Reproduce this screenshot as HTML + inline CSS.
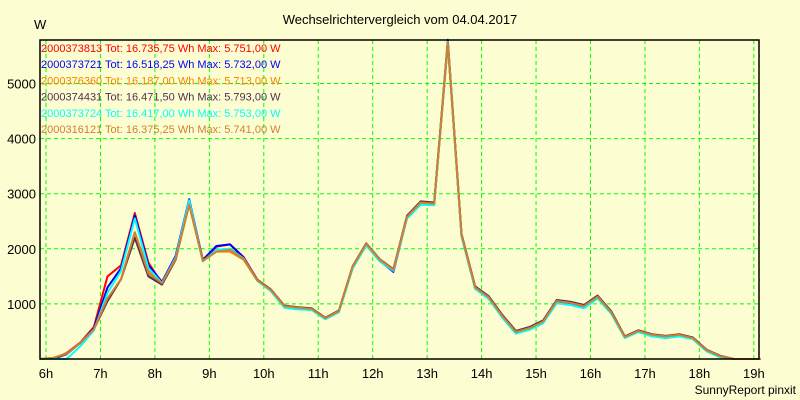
<!DOCTYPE html>
<html><head><meta charset="utf-8"><style>
body{margin:0;background:#fdfdd2;}
svg{display:block;font-family:"Liberation Sans",sans-serif;}
</style></head><body>
<svg id="chart" width="800" height="400">
<rect x="0" y="0" width="800" height="400" fill="#fdfdd2"/>
<text x="400" y="24" font-size="13" text-anchor="middle">Wechselrichtervergleich vom 04.04.2017</text>
<text x="34" y="29" font-size="13">W</text>
<g id="grid"></g><g id="series"></g><g id="axes"></g><g id="legend"></g>
<text x="796" y="394" font-size="12" text-anchor="end">SunnyReport pinxit</text>
</svg>
<script>
const times=[5.88,6.13,6.38,6.63,6.88,7.13,7.38,7.63,7.88,8.13,8.38,8.63,8.88,9.13,9.38,9.63,9.88,10.13,10.38,10.63,10.88,11.13,11.38,11.63,11.88,12.13,12.38,12.63,12.88,13.13,13.38,13.63,13.88,14.13,14.38,14.63,14.88,15.13,15.38,15.63,15.88,16.13,16.38,16.63,16.88,17.13,17.38,17.63,17.88,18.13,18.38,18.63,18.88,19.13];
const xTicks=[6,7,8,9,10,11,12,13,14,15,16,17,18,19];
const yTicks=[1000,2000,3000,4000,5000];
const seriesNames=["2000373813","2000373721","2000376360","2000374431","2000373724","2000316121"];
const seriesTot=["16.735,75","16.518,25","16.187,00","16.471,50","16.417,00","16.375,25"];
const seriesMax=["5.751,00","5.732,00","5.713,00","5.793,00","5.753,00","5.741,00"];
const seriesColors=["#ff0000","#0000ff","#ff8000","#503050","#00ffff","#d08030"];
const sRed=[0,0,110,300,580,1500,1700,2650,1750,1370,1850,2870,1780,2040,2080,1850,1440,1260,960,930,910,740,870,1670,2090,1800,1620,2580,2840,2820,5751,2260,1300,1120,780,490,560,680,1050,1020,960,1130,850,400,510,440,410,440,380,160,50,0,0,0];
const sBlue=[0,0,90,290,560,1300,1650,2600,1700,1400,1870,2900,1800,2050,2080,1840,1430,1250,950,920,900,730,860,1650,2070,1780,1580,2560,2830,2810,5732,2240,1290,1110,770,480,550,670,1040,1010,950,1120,840,390,500,430,400,430,370,150,40,0,0,0];
const sOrange=[0,20,100,290,540,1100,1450,2300,1600,1370,1820,2800,1780,1950,1950,1800,1420,1240,950,920,900,740,860,1660,2080,1790,1610,2570,2830,2810,5713,2250,1300,1120,780,490,560,680,1050,1020,960,1130,850,400,510,440,410,440,380,160,50,0,0,0];
const sPurple=[0,0,100,290,540,1050,1450,2200,1500,1350,1800,2820,1800,1960,2000,1830,1440,1260,970,940,920,750,880,1680,2100,1810,1630,2600,2860,2840,5793,2270,1320,1140,800,510,580,700,1070,1040,980,1150,870,410,520,450,420,450,390,170,60,0,0,0];
const sCyan=[0,0,0,230,520,1200,1600,2550,1650,1380,1840,2880,1770,1980,2000,1820,1420,1230,930,900,890,720,850,1640,2060,1770,1600,2550,2800,2790,5753,2220,1270,1090,750,460,530,650,1010,980,920,1100,820,380,490,410,380,410,360,140,30,0,0,0];
const sBrown=[0,20,100,290,540,1100,1450,2300,1550,1380,1820,2800,1780,1950,1980,1810,1430,1250,960,930,910,740,870,1670,2090,1800,1620,2580,2840,2820,5741,2250,1300,1120,780,490,560,680,1050,1020,960,1130,850,400,510,440,410,440,380,160,50,0,0,0];
const allSeries=[sRed,sBlue,sOrange,sPurple,sCyan,sBrown];

const NS="http://www.w3.org/2000/svg";
const L=40,R=759,T=40,B=359;
function xs(h){return 46+(h-6)*54.45;}
function ys(v){return B-v*0.0551;}
function mk(tag,attrs,parent){const e=document.createElementNS(NS,tag);for(const k in attrs)e.setAttribute(k,attrs[k]);parent.appendChild(e);return e;}
const grid=document.getElementById('grid'),axes=document.getElementById('axes'),ser=document.getElementById('series'),leg=document.getElementById('legend');
xTicks.forEach(h=>{
  const x=xs(h);
  const g=mk('line',{x1:x,x2:x,y1:T,y2:B,stroke:'#00ff00','stroke-width':1,'stroke-dasharray':'4,3'},grid);
  
  
  const t=mk('text',{x:x,y:378,'font-size':13,'text-anchor':'middle'},axes);
  
  
  t.textContent=h+'h';
});
yTicks.forEach(v=>{
  const y=ys(v);
  const g=mk('line',{x1:L,x2:R,y1:y,y2:y,stroke:'#00ff00','stroke-width':1,'stroke-dasharray':'4,3'},grid);
  
  
  const t=mk('text',{x:36,y:y+5,'font-size':13,'text-anchor':'end'},axes);
  
  
  t.textContent=v;
});
allSeries.forEach((s,i)=>{
  const d=s.map((v,j)=>(j?'L':'M')+xs(times[j]).toFixed(1)+','+ys(v).toFixed(1)).join(' ');
  const p=mk('path',{d:d,fill:'none',stroke:seriesColors[i],'stroke-width':2,'stroke-linejoin':'round'},ser);
  
  
});
const frame=mk('path',{d:`M${L},${T} L${R},${T} L${R},${B} L${L},${B} Z`,fill:'none',stroke:'#000','stroke-width':1.5},axes);


seriesNames.forEach((n,i)=>{
  const t=mk('text',{x:41,y:52+i*16.2,'font-size':11,fill:seriesColors[i]},leg);
  
  
  t.textContent=n+' Tot: '+seriesTot[i]+' Wh Max: '+seriesMax[i]+' W';
});
</script>
</body></html>
